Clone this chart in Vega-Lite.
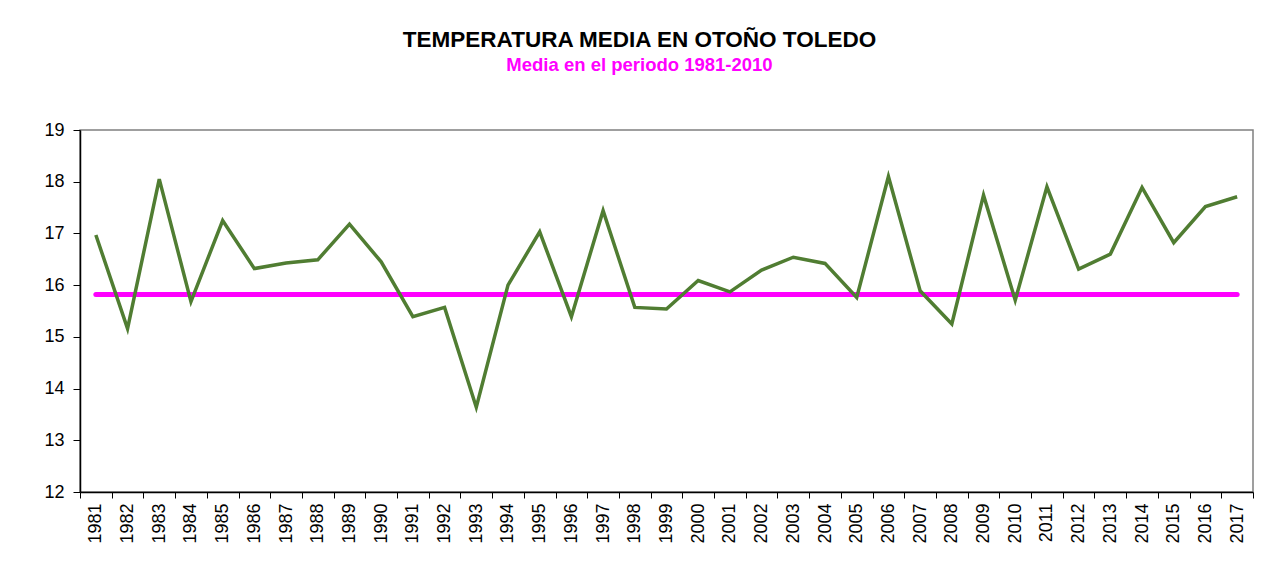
{
  "$schema": "https://vega.github.io/schema/vega-lite/v6.json",
  "autosize": {"type": "none"},
  "padding": {"left": 80, "top": 130, "right": 24, "bottom": 76},
  "width": 1173,
  "height": 362,
  "background": "white",
  "title": {
    "text": "TEMPERATURA MEDIA EN OTOÑO TOLEDO",
    "subtitle": "Media en el periodo 1981-2010",
    "anchor": "middle",
    "frame": "group",
    "dx": -27,
    "offset": 47,
    "font": "Liberation Sans",
    "fontSize": 22.5,
    "fontWeight": "bold",
    "color": "black",
    "subtitleFont": "Liberation Sans",
    "subtitleFontSize": 18.5,
    "subtitleFontWeight": "bold",
    "subtitleColor": "#FF00FF",
    "subtitlePadding": 4
  },
  "config": {
    "view": {"stroke": "#808080", "strokeWidth": 1.5},
    "axis": {
      "labelFont": "Liberation Sans",
      "labelColor": "black",
      "domainColor": "black",
      "tickColor": "black",
      "grid": false,
      "title": null
    }
  },
  "data": {
    "values": [
      {"year": "1981", "temp": 16.97, "media": 15.82},
      {"year": "1982", "temp": 15.16, "media": 15.82},
      {"year": "1983", "temp": 18.05, "media": 15.82},
      {"year": "1984", "temp": 15.68, "media": 15.82},
      {"year": "1985", "temp": 17.25, "media": 15.82},
      {"year": "1986", "temp": 16.32, "media": 15.82},
      {"year": "1987", "temp": 16.43, "media": 15.82},
      {"year": "1988", "temp": 16.49, "media": 15.82},
      {"year": "1989", "temp": 17.18, "media": 15.82},
      {"year": "1990", "temp": 16.45, "media": 15.82},
      {"year": "1991", "temp": 15.39, "media": 15.82},
      {"year": "1992", "temp": 15.57, "media": 15.82},
      {"year": "1993", "temp": 13.64, "media": 15.82},
      {"year": "1994", "temp": 16.0, "media": 15.82},
      {"year": "1995", "temp": 17.03, "media": 15.82},
      {"year": "1996", "temp": 15.39, "media": 15.82},
      {"year": "1997", "temp": 17.44, "media": 15.82},
      {"year": "1998", "temp": 15.57, "media": 15.82},
      {"year": "1999", "temp": 15.54, "media": 15.82},
      {"year": "2000", "temp": 16.09, "media": 15.82},
      {"year": "2001", "temp": 15.87, "media": 15.82},
      {"year": "2002", "temp": 16.29, "media": 15.82},
      {"year": "2003", "temp": 16.54, "media": 15.82},
      {"year": "2004", "temp": 16.42, "media": 15.82},
      {"year": "2005", "temp": 15.76, "media": 15.82},
      {"year": "2006", "temp": 18.1, "media": 15.82},
      {"year": "2007", "temp": 15.89, "media": 15.82},
      {"year": "2008", "temp": 15.25, "media": 15.82},
      {"year": "2009", "temp": 17.74, "media": 15.82},
      {"year": "2010", "temp": 15.71, "media": 15.82},
      {"year": "2011", "temp": 17.9, "media": 15.82},
      {"year": "2012", "temp": 16.31, "media": 15.82},
      {"year": "2013", "temp": 16.6, "media": 15.82},
      {"year": "2014", "temp": 17.89, "media": 15.82},
      {"year": "2015", "temp": 16.82, "media": 15.82},
      {"year": "2016", "temp": 17.52, "media": 15.82},
      {"year": "2017", "temp": 17.71, "media": 15.82}
    ]
  },
  "encoding": {
    "x": {
      "field": "year",
      "type": "ordinal",
      "bandPosition": 0.5,
      "scale": {"type": "band", "paddingInner": 0, "paddingOuter": 0},
      "axis": {
        "labelAngle": -90,
        "labelFontSize": 18,
        "tickSize": 6,
        "labelPadding": 5,
        "tickBand": "extent",
        "domainWidth": 1.5
      }
    }
  },
  "layer": [
    {
      "mark": {"type": "line", "color": "#FF00FF", "strokeWidth": 5, "strokeCap": "round"},
      "encoding": {
        "y": {
          "field": "media",
          "type": "quantitative",
          "scale": {"domain": [12, 19], "nice": false, "zero": false},
          "axis": {
            "values": [12, 13, 14, 15, 16, 17, 18, 19],
            "format": "d",
            "labelFontSize": 18,
            "tickSize": 7,
            "labelPadding": 9,
            "domainWidth": 1.5
          }
        }
      }
    },
    {
      "mark": {"type": "line", "color": "#507D32", "strokeWidth": 3.5},
      "encoding": {
        "y": {"field": "temp", "type": "quantitative"}
      }
    }
  ]
}
